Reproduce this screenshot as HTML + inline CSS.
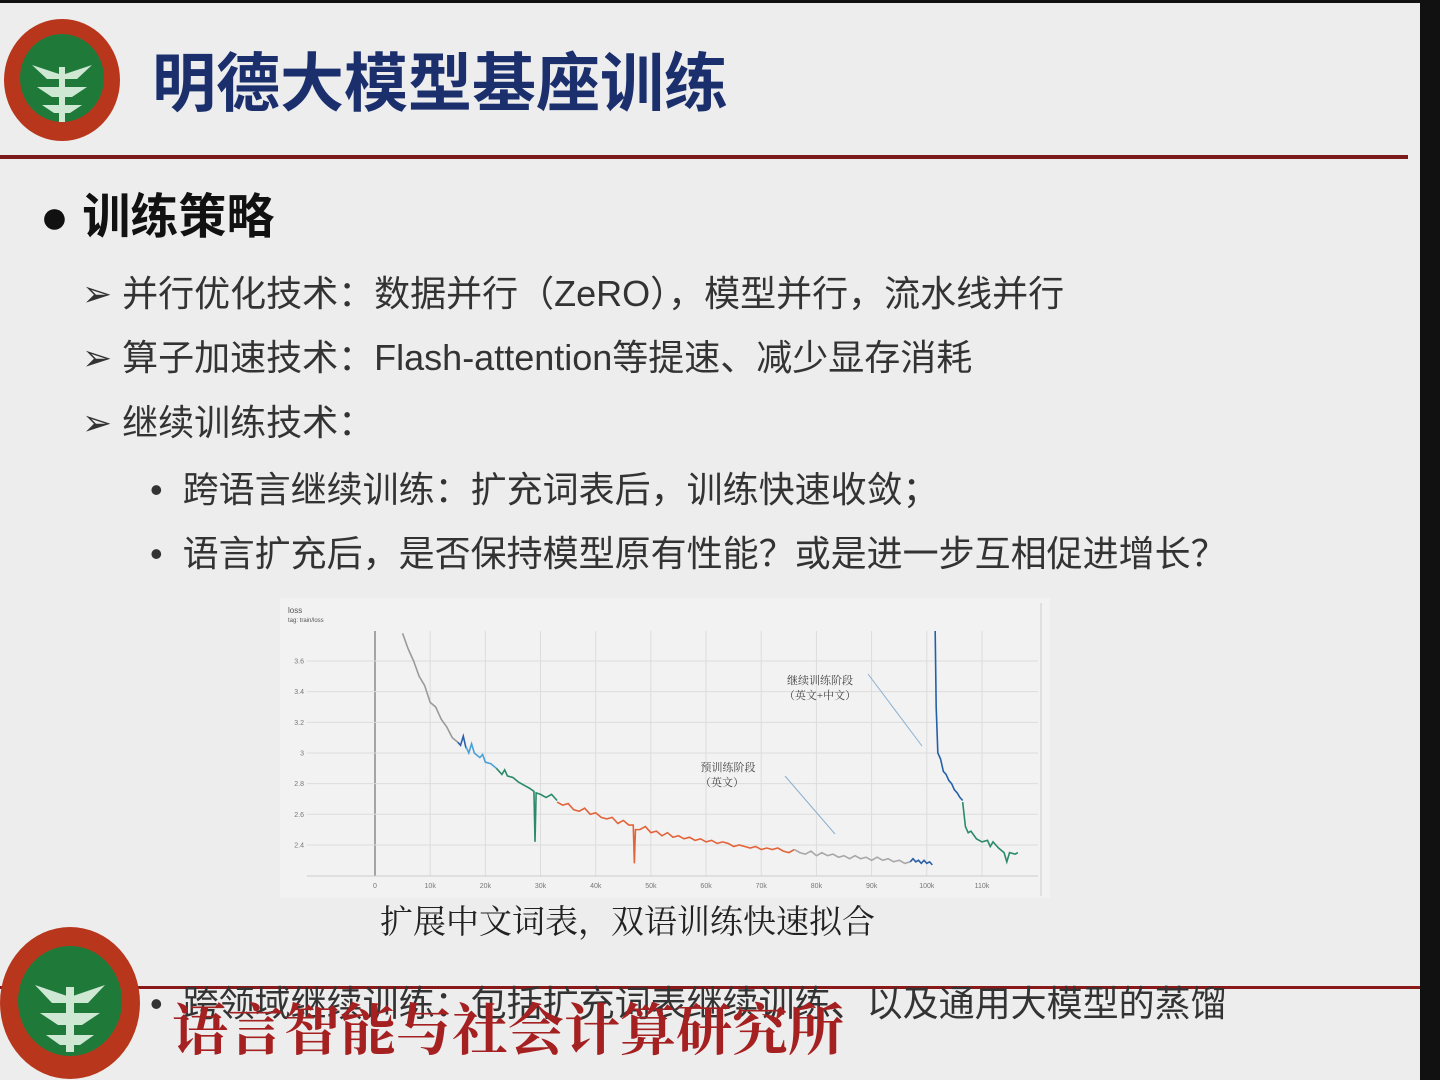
<!DOCTYPE html>
<html><head><meta charset="utf-8"><style>
body{margin:0;width:1440px;height:1080px;overflow:hidden;background:#111;font-family:"Liberation Sans","Noto Sans CJK SC",sans-serif}
#slide{position:absolute;left:0;top:3px;width:1420px;height:1077px;background:#ededee}
.t{position:absolute;white-space:nowrap}
.it{font-size:36px;color:#333}
</style></head><body>
<div id="slide">
<svg class="t" style="left:2px;top:14px" width="120" height="126">
<ellipse cx="60" cy="63" rx="58" ry="61" fill="#b8371c"/><ellipse cx="60" cy="61" rx="42" ry="44" fill="#1f7a3a"/>
<path d="M30 48 L60 58 L90 48 L75 62 L45 62Z M35 70 L85 70 L70 80 L50 80Z M40 88 L80 88 L68 96 L52 96Z" fill="#cfe8d4"/>
<rect x="57" y="50" width="6" height="55" fill="#cfe8d4"/></svg>
<div class="t" style="left:152px;top:30px;font-size:64px;font-weight:bold;color:#1b2f6d">明德大模型基座训练</div>
<div class="t" style="left:0;top:152px;width:1408px;height:4px;background:#7a1a1a"></div>
<div class="t" style="left:40px;top:174px;font-size:48px;font-weight:bold;color:#111">●&nbsp;训练策略</div>
<div class="t it" style="left:82px;top:262px">➢&nbsp;并行优化技术：数据并行（ZeRO），模型并行，流水线并行</div>
<div class="t it" style="left:82px;top:326px">➢&nbsp;算子加速技术：Flash-attention等提速、减少显存消耗</div>
<div class="t it" style="left:82px;top:391px">➢&nbsp;继续训练技术：</div>
<div class="t it" style="left:150px;top:458px">•&nbsp;&nbsp;跨语言继续训练：扩充词表后，训练快速收敛；</div>
<div class="t it" style="left:150px;top:522px">•&nbsp;&nbsp;语言扩充后，是否保持模型原有性能？或是进一步互相促进增长？</div>

<svg id="chart" class="t" style="left:280px;top:595px" width="770" height="300"></svg>

<div class="t" style="left:380px;top:893px;font-size:33px;color:#222;font-family:'Liberation Serif','Noto Serif CJK SC',serif">扩展中文词表，双语训练快速拟合</div>

<div class="t" style="left:0;top:983px;width:1420px;height:3px;background:#8a1a1a"></div>
<div class="t it" style="left:150px;top:972px">•&nbsp;&nbsp;跨领域继续训练：包括扩充词表继续训练、以及通用大模型的蒸馏</div>
<div class="t" style="left:172px;top:984px;font-size:56px;font-weight:bold;color:#a52020;font-family:'Liberation Serif','Noto Serif CJK SC',serif">语言智能与社会计算研究所</div>
<svg class="t" style="left:0;top:922px" width="145" height="155">
<ellipse cx="70" cy="78" rx="70" ry="76" fill="#b8371c"/><ellipse cx="70" cy="76" rx="52" ry="55" fill="#1f7a3a"/>
<path d="M35 60 L70 72 L105 60 L88 78 L52 78Z M40 88 L100 88 L82 100 L58 100Z M46 110 L94 110 L80 120 L60 120Z" fill="#cfe8d4"/>
<rect x="66" y="62" width="8" height="65" fill="#cfe8d4"/></svg>
</div>
<script>
const xTicks=[0,10,20,30,40,50,60,70,80,90,100,110];
const yTicks=[2.4,2.6,2.8,3.0,3.2,3.4,3.6];
const yTickLabels=["2.4","2.6","2.8","3","3.2","3.4","3.6"];
const grayStepsA=[5,6,7,8,9,10,11,12,13,14,15];
const grayLossA=[3.78,3.68,3.6,3.5,3.44,3.33,3.3,3.22,3.17,3.1,3.07];
const blueStepsA=[15,15.5,16,16.5];
const blueLossA=[3.07,3.05,3.11,3.03];
const lightSteps=[16.5,17,17.5,18,19,19.5,20,21,22];
const lightLoss=[3.04,3.0,3.06,3.0,2.97,2.99,2.94,2.93,2.9];
const greenStepsA=[22,23,23.5,24,25,26,27,28,28.8,29,29.2,30,31,32,33];
const greenLossA=[2.9,2.86,2.89,2.85,2.84,2.81,2.79,2.77,2.75,2.42,2.74,2.73,2.71,2.73,2.69];
const orangeSteps=[33,34,35,36,37,38,39,40,41,42,43,44,45,46,46.8,47,47.2,48,49,50,51,52,53,54,55,56,57,58,59,60,61,62,63,64,65,66,67,68,69,70,71,72,73,74,75,76];
const orangeLoss=[2.68,2.66,2.67,2.63,2.62,2.64,2.6,2.61,2.58,2.57,2.58,2.54,2.56,2.53,2.53,2.28,2.5,2.5,2.52,2.48,2.49,2.46,2.48,2.45,2.46,2.44,2.45,2.43,2.44,2.42,2.43,2.41,2.42,2.41,2.39,2.4,2.39,2.38,2.39,2.37,2.38,2.37,2.38,2.36,2.35,2.37];
const graySteps=[76,77,78,79,80,81,82,83,84,85,86,87,88,89,90,91,92,93,94,95,96,97];
const grayLoss=[2.37,2.35,2.34,2.36,2.33,2.35,2.33,2.34,2.32,2.33,2.31,2.33,2.31,2.32,2.3,2.32,2.3,2.31,2.29,2.3,2.28,2.29];
const blueStepsB=[97,97.5,98,98.5,99,99.5,100,100.5,101];
const blueLossB=[2.29,2.31,2.29,2.3,2.28,2.3,2.28,2.29,2.27];
const contSteps=[101.5,101.7,102,102.5,103,103.5,104,104.5,105,105.5,106,106.5];
const contLoss=[3.85,3.3,3.0,2.96,2.88,2.86,2.82,2.8,2.76,2.74,2.71,2.69];
const greenStepsB=[106.5,107,107.5,108,109,110,111,111.5,112,113,114,114.5,115,116,116.5];
const greenLossB=[2.68,2.52,2.48,2.49,2.44,2.42,2.43,2.39,2.42,2.38,2.35,2.29,2.35,2.34,2.35];
const NS="http://www.w3.org/2000/svg";
const svg=document.getElementById('chart');
const L=27,R=758,T=33,B=278;
const xs=k=>95+k*5.518;
const ys=v=>63+(3.6-v)*153.3;
function mk(tag,attrs){const e=document.createElementNS(NS,tag);for(const k in attrs)e.setAttribute(k,attrs[k]);svg.appendChild(e);return e;}
const bg=mk('rect',{x:0,y:0,width:770,height:300,fill:'#f2f2f2'});


mk('line',{x1:761,y1:5,x2:761,y2:298,stroke:'#ccc'});
xTicks.forEach(t=>{const l=mk('line',{x1:xs(t),y1:T,x2:xs(t),y2:B,stroke:'#dcdcdc'});


const tx=mk('text',{x:xs(t),y:290,'font-size':7,fill:'#777','text-anchor':'middle'});tx.textContent=t===0?'0':t+'k';

});
const vz=mk('line',{x1:xs(0),y1:T,x2:xs(0),y2:B,stroke:'#555'});


yTicks.forEach((t,i)=>{const l=mk('line',{x1:L,y1:ys(t),x2:R,y2:ys(t),stroke:'#dcdcdc'});


const tx=mk('text',{x:L-3,y:ys(t)+2.5,'font-size':7,fill:'#777','text-anchor':'end'});tx.textContent=yTickLabels[i];

});
mk('line',{x1:L,y1:B,x2:R,y2:B,stroke:'#ccc'});
const t1=mk('text',{x:8,y:15,'font-size':8,fill:'#555'});t1.textContent='loss';


const t2=mk('text',{x:8,y:24,'font-size':6,fill:'#555'});t2.textContent='tag: train/loss';


const cp=mk('clipPath',{id:'clip'});const cr=document.createElementNS(NS,'rect');cr.setAttribute('x',L);cr.setAttribute('y',T);cr.setAttribute('width',R-L);cr.setAttribute('height',B-T);cp.appendChild(cr);
function series(xsA,ysA,color,name){const p=mk('polyline',{points:xsA.map((k,i)=>xs(k)+','+ys(ysA[i])).join(' '),fill:'none',stroke:color,'stroke-width':1.6,'clip-path':'url(#clip)'});

}
series(grayStepsA,grayLossA,'#9a9a9a','series-gray-start');
series(blueStepsA,blueLossA,'#2a5fa8','series-blue-a');
series(lightSteps,lightLoss,'#4aa0d8','series-light-blue');
series(greenStepsA,greenLossA,'#2a8a6a','series-green-a');
series(orangeSteps,orangeLoss,'#e2643a','series-orange');
series(graySteps,grayLoss,'#a8a8a8','series-gray-end');
series(blueStepsB,blueLossB,'#2a5fa8','series-blue-b');
series(contSteps,contLoss,'#2360a8','series-continual-blue');
series(greenStepsB,greenLossB,'#2a8a6a','series-continual-green');
function ann(x,y,txt,name){const e=mk('text',{x:x,y:y,'font-size':11,fill:'#444','text-anchor':'middle','font-family':'Liberation Serif, Noto Serif CJK SC, serif'});e.textContent=txt;

}
ann(540,86,'继续训练阶段','annotation-continual');ann(540,101,'（英文+中文）','annotation-continual-sub');
ann(448,173,'预训练阶段','annotation-pretrain');ann(442,188,'（英文）','annotation-pretrain-sub');
mk('line',{x1:588,y1:76,x2:642,y2:148,stroke:'#8ab0d0'});
mk('line',{x1:505,y1:178,x2:555,y2:236,stroke:'#8ab0d0'});
</script>
</body></html>
